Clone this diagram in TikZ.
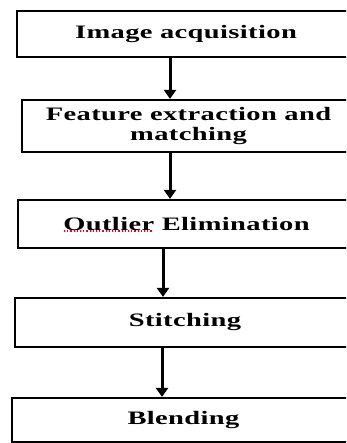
\documentclass[tikz,border=0pt]{standalone}
\usepackage{fontspec}
\newfontfamily\boxfont{Liberation Serif Bold}[FakeStretch=1.5,LetterSpace=2]
\usetikzlibrary{arrows.meta}
\tikzset{
stepbox/.style={draw,line width=2.2pt,minimum height=#1,inner sep=0pt,align=center,font=\boxfont\fontsize{19}{20}\selectfont},
flow/.style={-{Triangle[length=9pt,width=12pt]},line width=3pt}
}
\begin{document}
\begin{tikzpicture}[x=1pt,y=-1pt]
\useasboundingbox (0,0) rectangle (346,443);
\clip (0,0) rectangle (346,443); % boxes run past the right edge
\node[stepbox=46pt,minimum width=338pt] (acq) at (186,34) {Image acquisition};
\node[stepbox=52pt,minimum width=333pt] (feat) at (188.5,126) {Feature extraction and\\matching};
\node[stepbox=48pt,minimum width=337pt] (outl) at (186.5,224) {Outlier Elimination};
\node[stepbox=49pt,minimum width=340pt] (stitch) at (185,322.5) {Stitching};
\node[stepbox=44pt,minimum width=343pt] (blend) at (183.5,420) {Blending};
% spell check marks
\draw[red,dash pattern=on 1.2pt off 2pt,line width=1.2pt] (64,231) -- (153,231);
\draw[flow] ([xshift=-16pt]acq.south) -- ([xshift=-16pt]acq.south |- feat.north);
\draw[flow] ([xshift=-18.5pt]feat.south) -- ([xshift=-18.5pt]feat.south |- outl.north);
\draw[flow] ([xshift=-23.5pt]outl.south) -- ([xshift=-23.5pt]outl.south |- stitch.north);
\draw[flow] ([xshift=-23pt]stitch.south) -- ([xshift=-23pt]stitch.south |- blend.north);
\end{tikzpicture}
\end{document}
